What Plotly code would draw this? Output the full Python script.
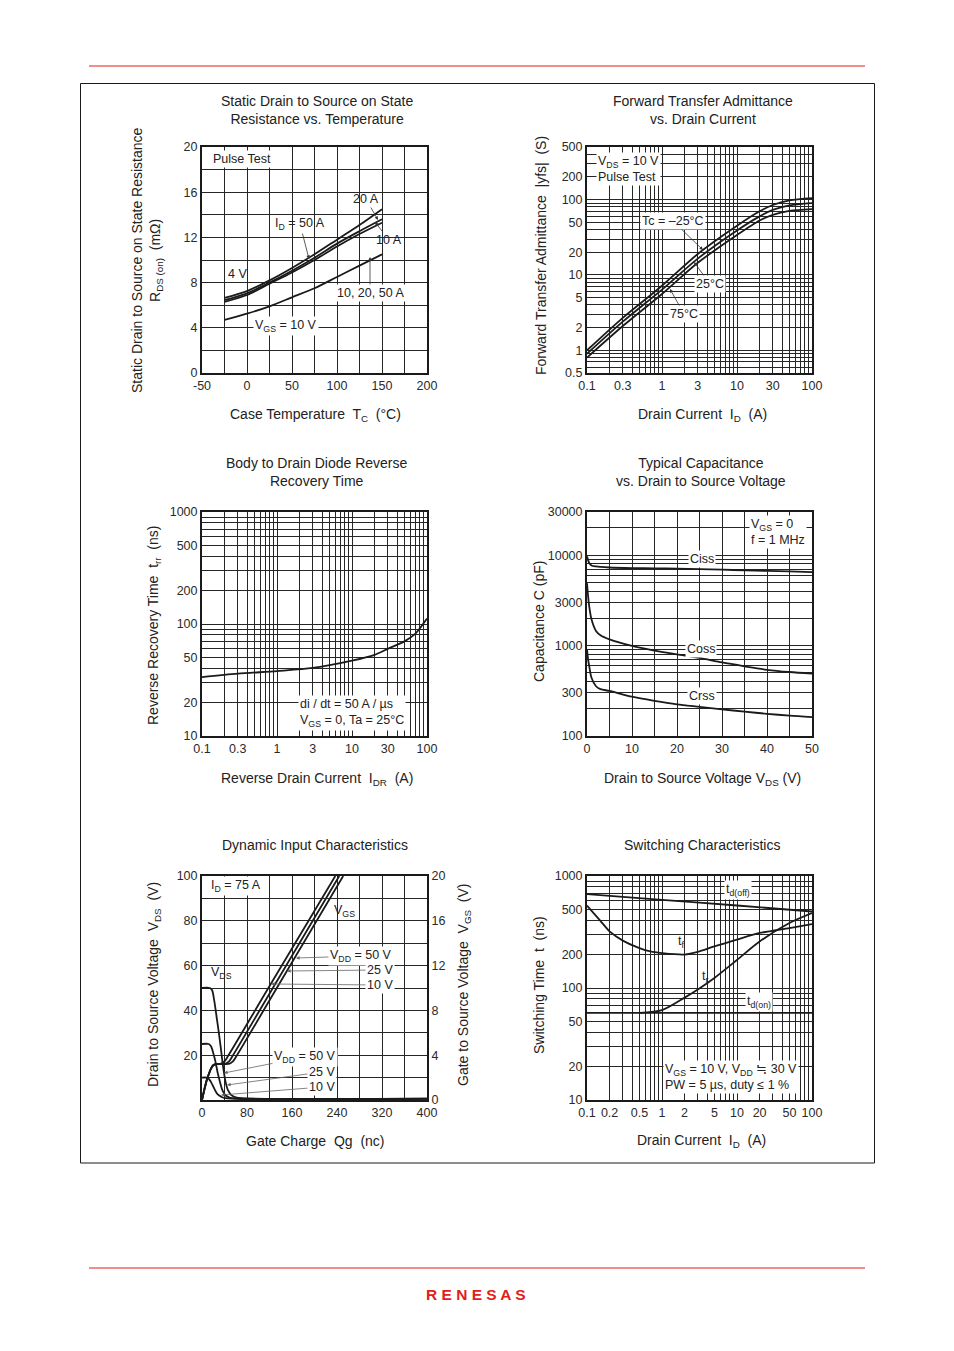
import plotly.graph_objects as go
import numpy as np

W, H = 954, 1351
def px(x): return x / W
def py(y): return 1 - y / H

FONT = "Liberation Sans, Arial, Helvetica, sans-serif"
INK = "#1a1a1a"
GRID = "#262626"
RED = "#e0201b"

# ---------------- DATA ----------------
# 1. Rds(on) vs Tc
tc_temp = [-25, 0, 25, 50, 75, 100, 125, 150]
rds_4v_20a = [6.65, 7.25, 8.2, 9.3, 10.5, 11.8, 13.1, 14.5]
rds_4v_50a = [6.45, 7.05, 8.0, 9.05, 10.2, 11.45, 12.55, 13.6]
rds_4v_10a = [6.3, 6.9, 7.9, 8.9, 10.0, 11.2, 12.3, 13.3]
rds_10v = [4.7, 5.25, 5.9, 6.7, 7.5, 8.5, 9.5, 10.5]

# 2. |yfs| vs ID
yfs_id = [0.1, 0.3, 1, 3, 10, 20, 30, 50, 100]
yfs_m25 = [1.0, 2.7, 7.2, 19, 45, 70, 85, 98, 105]
yfs_25 = [0.9, 2.4, 6.4, 16.5, 39, 60, 73, 84, 90]
yfs_75 = [0.8, 2.1, 5.6, 14.5, 34, 53, 63, 71, 75]

# 3. trr vs IDR
trr_idr = [0.1, 0.3, 1, 3, 10, 20, 30, 50, 70, 100]
trr_ns = [33.5, 36, 38, 40.5, 47, 53, 60, 70, 82, 112]

# 4. Capacitance vs VDS
cap_vds = [0, 0.25, 0.5, 1, 2, 3, 5, 10, 15, 20, 25, 30, 35, 40, 45, 50]
ciss = [9700, 8800, 8200, 7700, 7500, 7400, 7300, 7200, 7150, 7100, 7000, 6900, 6800, 6700, 6600, 6500]
coss = [4900, 3500, 2700, 1950, 1450, 1300, 1170, 990, 880, 800, 730, 650, 590, 540, 510, 490]
crss = [900, 700, 590, 440, 355, 330, 315, 272, 245, 224, 210, 197, 186, 176, 168, 162]

# 5. Dynamic input
qg_vds50 = [0, 14, 18, 22, 26, 30, 34, 38, 42, 46, 52, 60, 70, 400]
vds50 = [50, 50, 49, 44, 37, 30, 22, 14, 8, 4.5, 2.2, 1.2, 0.8, 0.6]
qg_vds25 = [0, 12, 16, 20, 24, 28, 32, 36, 42, 50, 60, 400]
vds25 = [25, 25, 24, 21, 17, 12, 8, 4.5, 2, 1, 0.7, 0.6]
qg_vds10 = [0, 8, 12, 16, 20, 24, 28, 34, 42, 400]
vds10 = [10, 10, 9.5, 8, 6, 4, 2.5, 1.5, 0.8, 0.5]
qg_vgs_start = [0, 4, 8, 12, 16, 20, 25]
vgs_start = [0, 0.9, 1.7, 2.3, 2.8, 3.1, 3.2]
qg_vgs10 = qg_vgs_start + [34, 40, 46, 118, 237]
qg_vgs25 = qg_vgs_start + [42, 48, 54, 126, 244]
qg_vgs50 = qg_vgs_start + [49, 55, 61, 133, 251]
vgs_tail = [3.25, 3.45, 3.9, 10, 20]

# 6. Switching
sw_id = [0.1, 0.15, 0.2, 0.3, 0.5, 0.7, 1, 2, 3, 5, 10, 20, 50, 100]
tf_ns = [545, 400, 320, 265, 227, 212, 205, 199, 210, 235, 270, 310, 343, 372]
tdoff_id = [0.1, 1, 10, 100]
tdoff_ns = [690, 612, 545, 482]
tr_id = [0.5, 1, 2, 3, 5, 10, 20, 50, 100]
tr_ns = [60, 63.5, 82, 97, 123, 178, 260, 380, 466]
tdon_id = [0.1, 100]
tdon_ns = [60, 60]

# ---------------- FIGURE ----------------
fig = go.Figure()

def line(x, y, xa, ya, w=1.8, shape="spline"):
    fig.add_trace(go.Scatter(x=x, y=y, xaxis=xa, yaxis=ya, mode="lines",
                             line=dict(color=INK, width=w, shape=shape, smoothing=0.8),
                             showlegend=False, hoverinfo="skip"))

line(tc_temp, rds_4v_20a, "x", "y")
line(tc_temp, rds_4v_50a, "x", "y")
line(tc_temp, rds_4v_10a, "x", "y")
line(tc_temp, rds_10v, "x", "y")

line(yfs_id, yfs_m25, "x2", "y2")
line(yfs_id, yfs_25, "x2", "y2")
line(yfs_id, yfs_75, "x2", "y2")

line(trr_idr, trr_ns, "x3", "y3")

line(cap_vds, ciss, "x4", "y4")
line(cap_vds, coss, "x4", "y4")
line(cap_vds, crss, "x4", "y4")

line(qg_vds50, vds50, "x5", "y5")
line(qg_vds25, vds25, "x5", "y5")
line(qg_vds10, vds10, "x5", "y5")
line(qg_vgs10, vgs_start + vgs_tail, "x5", "y7")
line(qg_vgs25, vgs_start + vgs_tail, "x5", "y7")
line(qg_vgs50, vgs_start + vgs_tail, "x5", "y7")

line(sw_id, tf_ns, "x6", "y6")
line(tdoff_id, tdoff_ns, "x6", "y6")
line(tr_id, tr_ns, "x6", "y6")
line(tdon_id, tdon_ns, "x6", "y6")

def loggrid(lo, hi):
    vals = []
    for k in range(-3, 6):
        for d in range(1, 10):
            v = d * 10 ** k
            if lo * 0.999 <= v <= hi * 1.001:
                vals.append(round(v, 6))
    return vals

def axis(domain, grid, labels, log=False, rng=None, anchor=None, side=None, overlaying=None, showgrid=True):
    d = dict(domain=domain, type="log" if log else "linear",
             range=rng, tickmode="array", tickvals=labels, ticktext=["%g" % v for v in labels],
             showgrid=showgrid, gridcolor=GRID, gridwidth=1,
             showline=True, linecolor=INK, linewidth=2, mirror=True,
             ticks="", zeroline=False, automargin=False,
             tickfont=dict(family=FONT, size=12.5, color="#2a2a2a"))
    if showgrid:
        d["minor"] = dict(tickmode="array", tickvals=grid, showgrid=True, gridcolor=GRID,
                          gridwidth=1, ticks="")
    if anchor: d["anchor"] = anchor
    if side: d["side"] = side
    if overlaying: d["overlaying"] = overlaying
    return d

X1 = [px(202), px(427)]
X2 = [px(587), px(812)]
YR1 = [py(373), py(147)]
YR2 = [py(736), py(512)]
YR3 = [py(1100), py(876)]

lg = np.log10
fig.update_layout(
    xaxis=axis(X1, list(range(-50, 201, 25)), [-50, 0, 50, 100, 150, 200], rng=[-50, 200], anchor="y"),
    yaxis=axis(YR1, list(range(0, 21, 2)), [0, 4, 8, 12, 16, 20], rng=[0, 20], anchor="x"),
    xaxis2=axis(X2, loggrid(0.1, 100), [0.1, 0.3, 1, 3, 10, 30, 100], log=True, rng=[-1, 2], anchor="y2"),
    yaxis2=axis(YR1, loggrid(0.5, 500), [0.5, 1, 2, 5, 10, 20, 50, 100, 200, 500], log=True, rng=[lg(0.5), lg(500)], anchor="x2"),
    xaxis3=axis(X1, loggrid(0.1, 100), [0.1, 0.3, 1, 3, 10, 30, 100], log=True, rng=[-1, 2], anchor="y3"),
    yaxis3=axis(YR2, loggrid(10, 1000), [10, 20, 50, 100, 200, 500, 1000], log=True, rng=[1, 3], anchor="x3"),
    xaxis4=axis(X2, list(range(0, 51, 5)), [0, 10, 20, 30, 40, 50], rng=[0, 50], anchor="y4"),
    yaxis4=axis(YR2, loggrid(100, 30000), [100, 300, 1000, 3000, 10000, 30000], log=True, rng=[2, lg(30000)], anchor="x4"),
    xaxis5=axis(X1, list(range(0, 401, 40)), [0, 80, 160, 240, 320, 400], rng=[0, 400], anchor="y5"),
    yaxis5=axis(YR3, list(range(0, 101, 10)), [20, 40, 60, 80, 100], rng=[0, 100], anchor="x5"),
    yaxis7=axis(YR3, [], [0, 4, 8, 12, 16, 20], rng=[0, 20], anchor="x5",
                side="right", overlaying="y5", showgrid=False),
    xaxis6=axis(X2, loggrid(0.1, 100), [0.1, 0.2, 0.5, 1, 2, 5, 10, 20, 50, 100], log=True, rng=[-1, 2], anchor="y6"),
    yaxis6=axis(YR3, loggrid(10, 1000), [10, 20, 50, 100, 200, 500, 1000], log=True, rng=[1, 3], anchor="x6"),
)

anns = []
def T(text, x, y, size=14, angle=0, xanchor="center", bg=None, align="center", color="#222", family=FONT):
    a = dict(text=text, x=px(x), y=py(y), xref="paper", yref="paper", showarrow=False,
             xanchor=xanchor, yanchor="middle", textangle=angle, align=align,
             font=dict(family=family, size=size, color=color))
    if bg:
        a["bgcolor"] = bg
        a["borderpad"] = 1
    anns.append(a)

def A(text, tx, ty, hx, hy, size=12.5, bg=None, color="#333", width=0.8):
    a = dict(text=text, x=px(hx), y=py(hy), xref="paper", yref="paper", showarrow=True,
             ax=tx - hx, ay=ty - hy, arrowhead=2, arrowsize=0.9, arrowwidth=width, arrowcolor=color,
             font=dict(family=FONT, size=size, color="#222"))
    if bg:
        a["bgcolor"] = bg
        a["borderpad"] = 1
    anns.append(a)

# titles
T("Static Drain to Source on State<br>Resistance vs. Temperature", 317, 110)
T("Forward Transfer Admittance<br>vs. Drain Current", 703, 110)
T("Body to Drain Diode Reverse<br>Recovery Time", 317, 472)
T("Typical Capacitance<br>vs. Drain to Source Voltage", 701, 472)
T("Dynamic Input Characteristics", 315, 845)
T("Switching Characteristics", 702, 845)

# axis titles
T("Case Temperature  T<sub>C</sub>  (°C)", 315, 415)
T("Drain Current  I<sub>D</sub>  (A)", 702, 415)
T("Reverse Drain Current  I<sub>DR</sub>  (A)", 317, 779)
T("Drain to Source Voltage V<sub>DS</sub> (V)", 702, 779)
T("Gate Charge  Qg  (nc)", 315, 1141)
T("Drain Current  I<sub>D</sub>  (A)", 701, 1141)

T("Static Drain to Source on State Resistance<br>R<sub>DS (on)</sub>  (mΩ)", 147, 260, angle=-90)
T("Forward Transfer Admittance  |yfs|  (S)", 541, 256, angle=-90)
T("Reverse Recovery Time  t<sub>rr</sub>  (ns)", 154, 626, angle=-90)
T("Capacitance C (pF)", 539, 622, angle=-90)
T("Drain to Source Voltage  V<sub>DS</sub>  (V)", 154, 985, angle=-90)
T("Gate to Source Voltage  V<sub>GS</sub>  (V)", 464, 985, angle=-90)
T("Switching Time  t  (ns)", 539, 985, angle=-90)

# plot 1 labels
T("Pulse Test", 211, 159, size=12.5, xanchor="left", bg="white")
A("20 A", 366, 199, 378, 220)
A("I<sub>D</sub> = 50 A", 300, 224, 309, 259)
A("10 A", 389, 240, 375, 222)
T("4 V", 237, 274, size=12.5)
A("10, 20, 50 A", 370, 293, 370, 257, bg="white")
T("V<sub>GS</sub> = 10 V", 286, 326, size=12.5, bg="white")

# plot 2 labels
T("V<sub>DS</sub> = 10 V<br>Pulse Test", 596, 169, size=12.5, xanchor="left", bg="white", align="left")
A("Tc = –25°C", 673, 221, 703, 250, bg="white")
A("25°C", 710, 284, 694, 262, bg="white")
A("75°C", 684, 314, 670, 289, bg="white")

# plot 3 labels
T("di / dt = 50 A / µs<br>V<sub>GS</sub> = 0, Ta = 25°C", 298, 713, size=12.5, xanchor="left", bg="white", align="left")

# plot 4 labels
T("V<sub>GS</sub> = 0<br>f = 1 MHz", 749, 532, size=12.5, xanchor="left", bg="white", align="left")
T("Ciss", 702, 559, size=12.5, bg="white")
T("Coss", 701, 649, size=12.5, bg="white")
T("Crss", 702, 696, size=12.5, bg="white")

# plot 5 labels
T("I<sub>D</sub> = 75 A", 236, 886, size=12.5, bg="white")
T("V<sub>GS</sub>", 344, 911, size=12.5)
T("V<sub>DS</sub>", 221, 973, size=12.5)
A("V<sub>DD</sub> = 50 V", 361, 956, 296, 958, bg="white", color="#666")
A("25 V", 380, 970, 287, 971, bg="white", color="#666")
A("10 V", 380, 985, 271, 984, bg="white", color="#666")
A("V<sub>DD</sub> = 50 V", 305, 1057, 224, 1073, bg="white", color="#666")
A("25 V", 322, 1072, 227, 1085, bg="white", color="#666")
A("10 V", 322, 1087, 221, 1095, bg="white", color="#666")

# plot 6 labels
T("t<sub>d(off)</sub>", 738, 890, size=12.5, bg="white")
T("t<sub>f</sub>", 681, 942, size=12.5)
T("t<sub>r</sub>", 705, 977, size=12.5)
T("t<sub>d(on)</sub>", 759, 1002, size=12.5, bg="white")
T("V<sub>GS</sub> = 10 V, V<sub>DD</sub> ≒ 30 V<br>PW = 5 µs, duty ≤ 1 %", 663, 1077, size=12.5,
  xanchor="left", bg="white", align="left")

# logo
T("<b>R E N E S A S</b>", 476, 1294, size=15.5, color=RED)

shapes = [
    dict(type="line", xref="paper", yref="paper", x0=px(89), x1=px(865), y0=py(66), y1=py(66),
         line=dict(color=RED, width=1.2)),
    dict(type="line", xref="paper", yref="paper", x0=px(89), x1=px(865), y0=py(1268), y1=py(1268),
         line=dict(color=RED, width=1.2)),
    dict(type="rect", xref="paper", yref="paper", x0=px(80.5), x1=px(874.5), y0=py(1163), y1=py(83.5),
         line=dict(color=INK, width=1)),
]

fig.update_layout(width=W, height=H, margin=dict(l=0, r=0, t=0, b=0, autoexpand=False),
                  paper_bgcolor="white", plot_bgcolor="white",
                  annotations=anns, shapes=shapes, showlegend=False,
                  font=dict(family=FONT, size=13, color="#222"))

fig.write_html("out.html", config={"displayModeBar": False},
               post_script="document.body.style.margin='0';document.body.style.overflow='hidden';"
                           "document.documentElement.style.overflow='hidden';")
